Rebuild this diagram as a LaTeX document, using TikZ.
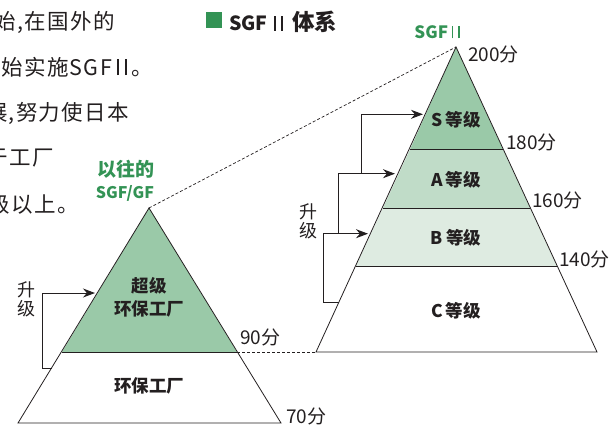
\documentclass[tikz,border=0pt]{standalone}
\usepackage{fontspec}
\setmainfont{Noto Sans CJK SC}
\usetikzlibrary{arrows.meta}
\definecolor{gdark}{HTML}{339355}
\definecolor{gmid}{HTML}{9AC9A8}
\definecolor{glight}{HTML}{C0DCC8}
\definecolor{gpale}{HTML}{DEEBE1}
\definecolor{ink}{HTML}{231F20}
\newcommand{\RomanII}{\hspace{.22em}\rule{.09em}{.74em}\hspace{.28em}\rule{.09em}{.74em}\hspace{.22em}}
\tikzset{
  x=1pt,y=-1pt,
  body/.style={font=\fontsize{21.5}{21.5}\selectfont\addfontfeature{LetterSpace=6},text=ink,inner sep=0pt,anchor=east},
  score/.style={font=\fontsize{19}{19}\selectfont,text=ink,inner sep=0pt,anchor=west},
  grade/.style={font=\fontsize{17.5}{23}\selectfont\bfseries,text=ink,inner sep=0pt,align=center},
  glabel/.style={text=gdark,inner sep=0pt},
  side/.style={font=\fontsize{18}{19}\selectfont,text=ink,inner sep=0pt,align=center},
  tier/.style={draw=ink,line width=0.8pt,line join=miter},
  uparrow/.style={draw=ink,line width=1pt,-{Stealth[length=12pt,width=9pt]}},
  linkline/.style={draw=ink,line width=0.7pt,densely dashed},
}
\begin{document}
\begin{tikzpicture}
\useasboundingbox (0,0) rectangle (609,426);
\clip (0,0) rectangle (609,426);
% body text
\node[body] (t1) at (115,22) {始,在国外的};
\node[body] (t2) at (153,67) {开始实施SGF\RomanII。};
\node[body] (t3) at (129,113) {展,努力使日本};
\node[body] (t4) at (54,158) {于工厂};
\node[body] (t5) at (79,204) {级以上。};
% title
\fill[gdark] (206,12) rectangle (222,28);
\node[font=\fontsize{19.5}{19.5}\selectfont\bfseries,text=ink,inner sep=0pt,anchor=west] (title) at (229,22) {SGF\hspace{.1em}\RomanII\hspace{.25em}{\fontsize{22.5}{22.5}\selectfont 体系}};
% left pyramid
\coordinate (La) at (149,208);
\coordinate (Lb) at (62,352);
\coordinate (Lc) at (237,352);
\coordinate (Ld) at (18,423);
\coordinate (Le) at (281,423);
\fill[gmid] (La) -- (Lc) -- (Lb) -- cycle;
\draw[tier] (La) -- (Ld) -- (Le) -- cycle;
\draw[tier] (Lb) -- (Lc);
% right pyramid
\coordinate (Ra) at (456,47);
\coordinate (Rb) at (316,352);
\coordinate (Rc) at (597,352);
\coordinate (R1l) at (410,149.5);
\coordinate (R1r) at (503,149.5);
\coordinate (R2l) at (383,208);
\coordinate (R2r) at (530,208);
\coordinate (R3l) at (356,266);
\coordinate (R3r) at (557,266);
\fill[gmid] (Ra) -- (R1r) -- (R1l) -- cycle;
\fill[glight] (R1l) -- (R1r) -- (R2r) -- (R2l) -- cycle;
\fill[gpale] (R2l) -- (R2r) -- (R3r) -- (R3l) -- cycle;
\draw[tier] (Ra) -- (Rb) -- (Rc) -- cycle;
\draw[tier] (R1l) -- (R1r);
\draw[tier] (R2l) -- (R2r);
\draw[tier] (R3l) -- (R3r);
% dotted links
\draw[linkline] (La) -- (Ra);
\draw[linkline] (Lc) -- (Rb);
% labels
\node[glabel,font=\fontsize{19}{19}\selectfont\bfseries] (old1) at (126,169) {以往的};
\node[glabel,font=\fontsize{16}{16}\selectfont\bfseries] (old2) at (125,193) {SGF/GF};
\node[glabel,font=\fontsize{17}{17}\selectfont\bfseries] (newl) at (437,32) {SGF\RomanII};
\node[score] (s200) at (468,54) {200分};
\node[score] (s180) at (506,142) {180分};
\node[score] (s160) at (532,200) {160分};
\node[score] (s140) at (559,259) {140分};
\node[score] (s90) at (240,337) {90分};
\node[score] (s70) at (286,416) {70分};
\node[grade] (gS) at (456,120) {S\,等级};
\node[grade] (gA) at (456,180) {A\,等级};
\node[grade] (gB) at (456,238) {B\,等级};
\node[grade] (gC) at (456,311) {C\,等级};
\node[grade] (gSuper) at (149,297) {超级\\环保工厂};
\node[grade] (gEco) at (149,386) {环保工厂};
\node[side] (up1) at (26,299) {升\\级};
\node[side] (up2) at (308,221) {升\\级};
% upgrade arrows
\coordinate (a1s) at (52,368); \coordinate (a1e) at (95,293);
\coordinate (a2s) at (339,302.5); \coordinate (a2e) at (368,233.7);
\coordinate (a3s) at (338,233.7); \coordinate (a3e) at (395,173.7);
\coordinate (a4s) at (361,173.7); \coordinate (a4e) at (423,114.3);
\draw[uparrow] (a1s) -- (42,368) -- (42,293) -- (a1e);
\draw[uparrow] (a2s) -- (323.5,302.5) -- (323.5,233.7) -- (a2e);
\draw[uparrow] (a3s) -- (338,173.7) -- (a3e);
\draw[uparrow] (a4s) -- (361,114.3) -- (a4e);
\end{tikzpicture}
\end{document}
